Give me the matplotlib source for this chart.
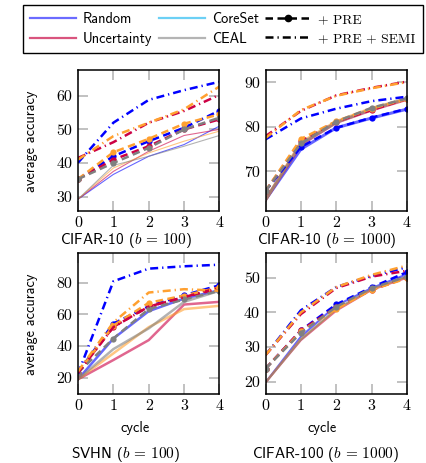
import matplotlib
matplotlib.use("Agg")
import matplotlib.pyplot as plt
from matplotlib.lines import Line2D

plt.rcParams["mathtext.fontset"] = "cm"
plt.rcParams["font.family"] = "cmss10"
plt.rcParams["axes.unicode_minus"] = False

cycles = [0, 1, 2, 3, 4]
methods = ["Random", "Uncertainty", "CoreSet", "CEAL"]
colors = ["#0000ff", "#cc0044", "#ffa030", "#808080"]
legend_colors = ["#6b6bff", "#d9547e", "#6cd0f5", "#b4b4b4"]

# rows: Random, Uncertainty, CoreSet, CEAL
c10_100_base = [[29.2, 36.6, 42.0, 45.5, 51.0], [29.2, 37.5, 43.5, 48.2, 50.0],
                [29.2, 38.5, 43.0, 46.5, 49.5], [29.2, 39.3, 42.0, 45.0, 48.2]]
c10_100_pre = [[35.2, 42.0, 46.5, 50.5, 55.6], [35.2, 41.0, 45.0, 50.0, 53.0],
               [35.2, 43.2, 47.2, 51.7, 54.5], [35.2, 40.0, 44.5, 50.0, 53.5]]
c10_100_semi = [[40.1, 52.0, 58.8, 61.7, 64.2], [41.5, 46.2, 52.0, 55.5, 60.3],
                [41.0, 48.0, 52.0, 56.0, 62.8]]

c10_1000_base = [[63.6, 75.0, 79.8, 82.0, 84.0], [63.6, 76.0, 81.0, 83.8, 86.2],
                 [63.6, 76.5, 81.2, 84.2, 86.3], [63.6, 76.2, 81.0, 84.0, 86.4]]
c10_1000_pre = [[65.6, 75.5, 79.8, 82.1, 84.1], [65.6, 76.8, 81.2, 83.8, 86.3],
                [65.6, 77.3, 81.3, 84.1, 86.3], [65.6, 76.3, 81.2, 84.3, 86.4]]
c10_1000_semi = [[77.2, 81.9, 84.1, 85.8, 86.8], [77.9, 83.6, 87.1, 88.8, 90.2],
                 [77.5, 83.8, 87.0, 88.7, 90.1]]

svhn_base = [[19.0, 44.8, 62.1, 70.1, 75.4], [19.0, 31.2, 43.8, 66.3, 68.0],
             [19.0, 35.4, 52.0, 63.4, 65.5], [19.0, 38.1, 51.2, 68.0, 75.0]]
svhn_pre = [[23.2, 54.3, 65.2, 72.2, 78.5], [23.2, 52.2, 65.0, 71.0, 76.3],
            [23.2, 53.0, 67.4, 72.0, 77.2], [23.2, 44.8, 63.5, 69.5, 75.0]]
svhn_semi = [[22.5, 81.0, 89.0, 90.5, 91.5], [23.0, 52.0, 65.0, 71.0, 77.0],
             [24.0, 55.0, 73.9, 76.0, 75.0]]

c100_base = [[19.8, 33.0, 42.0, 47.0, 51.0], [19.8, 32.0, 40.5, 46.5, 50.0],
             [19.8, 32.3, 40.8, 46.5, 50.2], [19.8, 32.2, 41.0, 46.8, 50.3]]
c100_pre = [[23.8, 34.8, 42.3, 47.2, 51.6], [23.8, 34.8, 41.5, 46.5, 50.0],
            [23.8, 34.5, 41.0, 46.5, 49.8], [23.8, 34.1, 41.6, 47.0, 50.3]]
c100_semi = [[27.7, 40.6, 47.3, 50.5, 53.0], [27.7, 39.5, 47.0, 50.3, 52.0],
             [27.7, 40.0, 47.3, 50.8, 53.5]]

panels = [
    dict(base=c10_100_base, pre=c10_100_pre, semi=c10_100_semi, ylim=(25.7, 67.7),
         yticks=[30, 40, 50, 60], title=r"CIFAR-10 ($b\,=\,100$)", lw=0.8,
         rect=[78, 70], tx=126, bottom=False),
    dict(base=c10_1000_base, pre=c10_1000_pre, semi=c10_1000_semi, ylim=(61.1, 92.8),
         yticks=[70, 80, 90], title=r"CIFAR-10 ($b\,=\,1000$)", lw=2.2,
         rect=[265.5, 70], tx=327, bottom=False),
    dict(base=svhn_base, pre=svhn_pre, semi=svhn_semi, ylim=(9.7, 98.9),
         yticks=[20, 40, 60, 80], title=r"SVHN ($b\,=\,100$)", lw=1.8,
         rect=[78, 253], tx=126, bottom=True),
    dict(base=c100_base, pre=c100_pre, semi=c100_semi, ylim=(16.5, 57.1),
         yticks=[20, 30, 40, 50], title=r"CIFAR-100 ($b\,=\,1000$)", lw=1.5,
         rect=[265.5, 253], tx=326, bottom=True),
]

W, H = 427, 463
fig = plt.figure(figsize=(W / 100, H / 100), dpi=100)

dash = (0, (3, 1.8))
dashdot = (0, (3.2, 1.6, 0.5, 1.6))

for i, p in enumerate(panels):
    x0, y0 = p["rect"]
    ax = fig.add_axes([x0 / W, 1 - (y0 + 141) / H, 141.5 / W, 141 / H])
    for row, c in zip(p["base"], colors):
        ax.plot(cycles, row, color=c, alpha=0.6, lw=p["lw"], solid_joinstyle="miter")
    for row, c in zip(p["pre"], colors):
        ax.plot(cycles, row, color=c, lw=1.8, ls=dash, marker="o", ms=4.5,
                markeredgewidth=0)
    for row, c in zip(p["semi"], colors[:3]):
        ax.plot(cycles, row, color=c, lw=1.8, ls=dashdot)
    ax.set_xlim(0, 4)
    ax.set_ylim(*p["ylim"])
    ax.set_xticks(cycles, labels=[str(c) for c in cycles], fontfamily="cmr10",
                  fontsize=11.5)
    ax.set_yticks(p["yticks"], labels=[str(t) for t in p["yticks"]], fontfamily="cmr10",
                  fontsize=11.5)
    ax.tick_params(direction="in", length=7.5, width=1.1, color="#b0b0b0",
                   top=True, right=True, pad=4)
    for s in ax.spines.values():
        s.set_linewidth(1.1)
    if i % 2 == 0:
        fig.text(31 / W, 1 - (y0 + 71) / H, "average accuracy", rotation=90,
                 ha="center", va="center", fontsize=10.3)
    if p["bottom"]:
        fig.text((x0 + 57) / W, 1 - 428 / H, "cycle", ha="center", va="center",
                 fontsize=10.3)
        fig.text(p["tx"] / W, 1 - 454 / H, p["title"], ha="center", va="center",
                 fontsize=11)
    else:
        fig.text(p["tx"] / W, 1 - 240 / H, p["title"], ha="center", va="center",
                 fontsize=11)

handles = [Line2D([], [], color=c, lw=1.6) for c in legend_colors]
handles += [Line2D([], [], color="black", lw=1.8, ls=dash, marker="o", ms=4.5),
            Line2D([], [], color="black", lw=1.8, ls=dashdot)]
labels = ["Random", "Uncertainty", "CoreSet", "CEAL", "+ PRE", "+ PRE + SEMI"]
leg = fig.legend(handles, labels, ncol=3,
                 loc="upper left", bbox_to_anchor=(23 / W, 1 - 5 / H), borderaxespad=0,
                 fontsize=10.3, handlelength=3.2, handletextpad=0.5,
                 columnspacing=0.45, borderpad=0.5, labelspacing=0.4,
                 fancybox=False, edgecolor="black", framealpha=1)
leg.get_frame().set_linewidth(1.0)
for t in leg.get_texts()[4:]:
    t.set_fontfamily("cmr10")
    t.set_fontsize(9.8)

fig.savefig("out.png", dpi=100)
